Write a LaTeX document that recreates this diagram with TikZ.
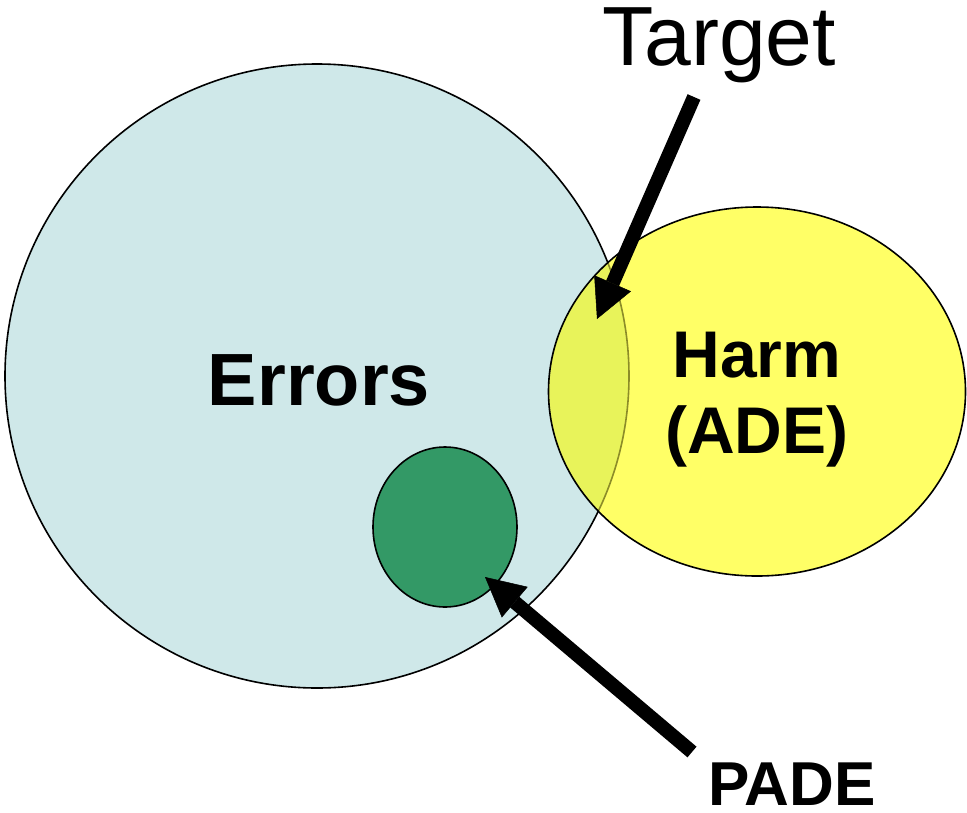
\documentclass[tikz,border=0pt]{standalone}
\usepackage{fontspec}
\setmainfont{Liberation Sans}
\usetikzlibrary{arrows.meta}
\definecolor{errblue}{RGB}{207,232,233}
\definecolor{harmyellow}{RGB}{255,255,102}
\definecolor{overlapyellow}{RGB}{232,243,90}
\definecolor{dimline}{RGB}{140,140,40}
\definecolor{padegreen}{RGB}{51,153,102}
\tikzset{
  outline/.style={line width=1.6pt},
  bigarrow/.style={line width=14pt, line cap=butt,
    -{Triangle[length=39pt,width=40pt,line width=0.5pt]}},
  lbl/.style={inner sep=0pt, anchor=base, align=center}
}
\begin{document}
\begin{tikzpicture}[x=1pt,y=-1pt]
  \useasboundingbox (0,0) rectangle (967,812);

  % Errors circle
  \fill[errblue] (317,376) circle [radius=312];
  \draw[outline] (317,376) circle [radius=312];

  % Harm ellipse, with the overlap tinted
  \fill[harmyellow] (757,391.5) ellipse [x radius=208.5, y radius=184.5];
  \begin{scope}
    \clip (317,376) circle [radius=312];
    \fill[overlapyellow] (757,391.5) ellipse [x radius=208.5, y radius=184.5];
  \end{scope}
  \begin{scope}
    \clip (757,391.5) ellipse [x radius=208.5, y radius=184.5];
    \draw[outline, dimline] (317,376) circle [radius=312];
  \end{scope}
  \draw[outline] (757,391.5) ellipse [x radius=208.5, y radius=184.5];

  % PADE ellipse
  \filldraw[outline, fill=padegreen] (445,527) ellipse [x radius=72, y radius=80];

  % labels
  \node[lbl] (target) at (719,65) {\fontsize{84}{84}\selectfont Target};
  \node[lbl] (errors) at (319,405) {\fontsize{74}{74}\selectfont\bfseries Errors};
  \node[lbl] (harm) at (757,377) {\fontsize{66}{66}\selectfont\bfseries Harm};
  \node[lbl] (ade) at (757,453) {\fontsize{66}{66}\selectfont\bfseries (ADE)};
  \node[lbl] (pade) at (792,805) {\fontsize{62}{62}\selectfont\bfseries PADE};

  % arrows
  \coordinate (ttail) at (694,97);
  \coordinate (ttip) at (597,319);
  \coordinate (ptail) at (692,752);
  \coordinate (ptip) at (485,577);
  \draw[bigarrow] (ttail) -- (ttip);
  \draw[bigarrow] (ptail) -- (ptip);
\end{tikzpicture}
\end{document}
